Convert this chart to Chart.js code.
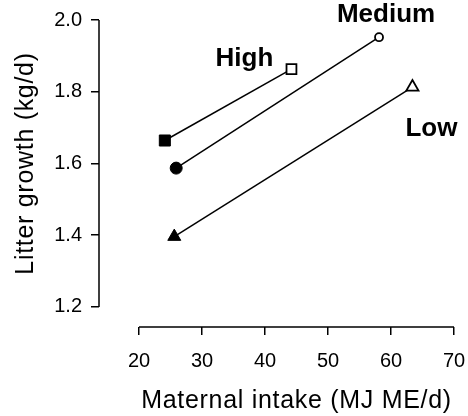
<!DOCTYPE html>
<html>
<head>
<meta charset="utf-8">
<script src="https://cdn.jsdelivr.net/npm/chart.js@4"></script>
<style>
  html, body { margin: 0; padding: 0; background: #fff; }
  #wrap { width: 468px; height: 416px; }
</style>
</head>
<body>
<div id="wrap"><canvas id="litterChart"></canvas></div>
<script>
// values
const groups = ['High', 'Medium', 'Low'];
const startIntake = [24.1, 25.9, 25.6];
const startGrowth = [1.664, 1.587, 1.396];
const endIntake = [44.2, 58.1, 63.4];
const endGrowth = [1.863, 1.952, 1.813];
const xTicks = [20, 30, 40, 50, 60, 70];
const yTicks = [1.2, 1.4, 1.6, 1.8, 2.0];

// marker look per group (filled at start, open at end)
const markerStyle = ['rect', 'circle', 'triangle'];
const markerSize = [[7.8, 7], [6, 4], [7.5, 7]];
// where each group name sits, relative to its open marker
const nameOffset = [[-47, -10], [7, -22], [19, 42]];

const FONT = "'Liberation Sans', Arial, Helvetica, sans-serif";

const datasets = groups.map((g, i) => ({
    label: g,
    data: [
        {x: startIntake[i], y: startGrowth[i]},
        {x: endIntake[i], y: endGrowth[i]}
    ],
    showLine: true,
    borderColor: '#000',
    borderWidth: 1.5,
    pointStyle: markerStyle[i],
    pointRadius: markerSize[i],
    pointHoverRadius: markerSize[i],
    pointBackgroundColor: ['#000', '#fff'],
    pointBorderColor: '#000',
    pointBorderWidth: [1, 1.8]
}));

// axis lines, titles and group names
const annotate = {
    id: 'annotate',
    afterDraw(chart) {
        const ctx = chart.ctx;
        const xs = chart.scales.x;
        const ys = chart.scales.y;
        const area = chart.chartArea;
        ctx.save();
        ctx.strokeStyle = '#000';
        ctx.lineWidth = 1.5;
        ctx.beginPath();
        ctx.moveTo(area.left, ys.getPixelForValue(yTicks[0]));
        ctx.lineTo(area.left, ys.getPixelForValue(yTicks[yTicks.length - 1]));
        ctx.moveTo(xs.getPixelForValue(xTicks[0]), area.bottom);
        ctx.lineTo(xs.getPixelForValue(xTicks[xTicks.length - 1]), area.bottom);
        ctx.stroke();

        ctx.fillStyle = '#000';
        ctx.font = '25px ' + FONT;
        ctx.letterSpacing = '0.7px';
        ctx.textAlign = 'center';
        ctx.textBaseline = 'alphabetic';
        const xMid = (xs.getPixelForValue(xTicks[0]) + xs.getPixelForValue(xTicks[xTicks.length - 1])) / 2;
        ctx.fillText('Maternal intake (MJ ME/d)', xMid, 408);

        const yMid = (ys.getPixelForValue(yTicks[0]) + ys.getPixelForValue(yTicks[yTicks.length - 1])) / 2;
        ctx.save();
        ctx.translate(33, yMid);
        ctx.rotate(-Math.PI / 2);
        ctx.fillText('Litter growth (kg/d)', 0, 0);
        ctx.restore();

        ctx.letterSpacing = '0px';
        ctx.font = 'bold 26px ' + FONT;
        ctx.textBaseline = 'middle';
        groups.forEach((g, i) => {
            const px = xs.getPixelForValue(endIntake[i]) + nameOffset[i][0];
            const py = ys.getPixelForValue(endGrowth[i]) + nameOffset[i][1];
            ctx.fillText(g, px, py);
        });
        ctx.restore();
    }
};

new Chart(document.getElementById('litterChart'), {
    type: 'scatter',
    data: {datasets: datasets},
    options: {
        responsive: true,
        maintainAspectRatio: false,
        animation: false,
        layout: {padding: {top: 20, right: 14, left: 0, bottom: 0}},
        plugins: {
            legend: {display: false},
            tooltip: {enabled: false}
        },
        scales: {
            x: {
                type: 'linear',
                min: 13.65,
                max: 70,
                afterBuildTicks: s => { s.ticks = xTicks.map(v => ({value: v})); },
                afterFit: s => { s.height = 89; s.paddingLeft = 0; s.paddingRight = 0; },
                border: {display: false},
                grid: {drawOnChartArea: false, drawTicks: true, tickLength: 8, color: '#000', lineWidth: 1.5},
                ticks: {color: '#000', padding: 14, maxRotation: 0, font: {family: FONT, size: 20}}
            },
            y: {
                type: 'linear',
                min: 1.144,
                max: 2.0,
                afterBuildTicks: s => { s.ticks = yTicks.map(v => ({value: v})); },
                afterFit: s => { s.width = 99; s.paddingTop = 0; s.paddingBottom = 0; },
                border: {display: false},
                grid: {drawOnChartArea: false, drawTicks: true, tickLength: 8, color: '#000', lineWidth: 1.5},
                ticks: {
                    color: '#000',
                    padding: 9,
                    font: {family: FONT, size: 20},
                    callback: v => v.toFixed(1)
                }
            }
        }
    },
    plugins: [annotate]
});
</script>
</body>
</html>
